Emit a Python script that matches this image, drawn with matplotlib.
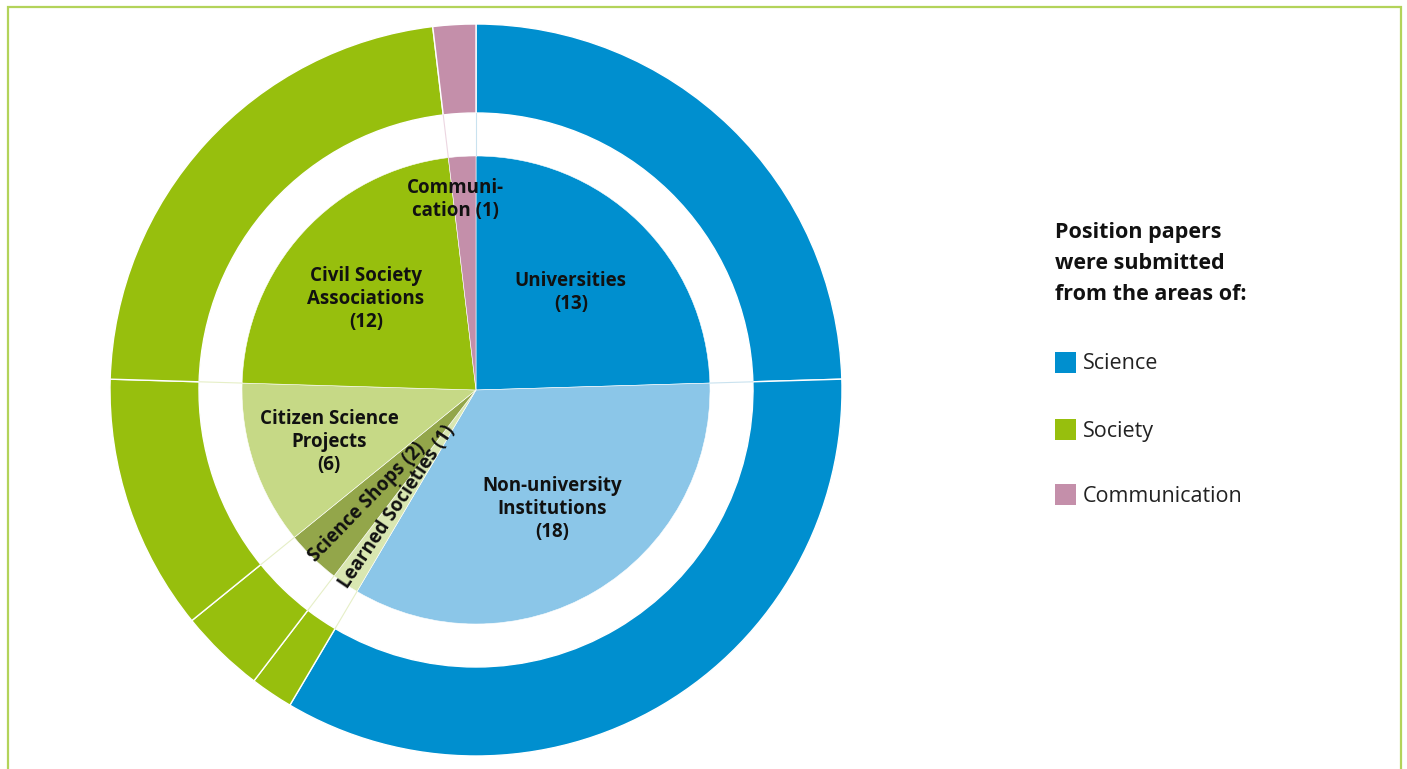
import numpy as np
import matplotlib
matplotlib.use("Agg")
import matplotlib.pyplot as plt
from matplotlib.patches import Rectangle

plt.rcParams['font.family'] = ['Open Sans', 'DejaVu Sans']

# inner pie: institutions, clockwise from the top
inner_labels = ['Universities\n(13)', 'Non-university\nInstitutions\n(18)',
                'Learned Societies (1)', 'Science Shops (2)',
                'Citizen Science\nProjects\n(6)', 'Civil Society\nAssociations\n(12)',
                'Communi-\ncation (1)']
inner_values = [13, 18, 1, 2, 6, 12, 1]
inner_colors = ['#008fcf', '#8bc6e8', '#d9e7b1', '#93a64a', '#c6d986', '#97bf0d', '#c48faa']
# outer ring: area each institution belongs to
outer_area = ['Science', 'Science', 'Society', 'Society', 'Society', 'Society', 'Communication']

areas = ['Science', 'Society', 'Communication']
area_colors = {'Science': '#008fcf', 'Society': '#97bf0d', 'Communication': '#c48faa'}
legend_title = ['Position papers', 'were submitted', 'from the areas of:']

W, H = 1407, 769
fig = plt.figure(figsize=(W / 100, H / 100), dpi=100)
cx, cy, R = 476, 390, 366
ax = fig.add_axes([(cx - R) / W, (H - cy - R) / H, 2 * R / W, 2 * R / H])

r_out = 1.0
r_gap = 277 / R
r_in = 234 / R

ax.pie(inner_values, radius=r_out, startangle=90, counterclock=False,
       colors=[area_colors[a] for a in outer_area],
       wedgeprops=dict(width=r_out - r_gap, edgecolor='white', linewidth=1.0))
ax.pie(inner_values, radius=r_in, startangle=90, counterclock=False,
       colors=inner_colors, wedgeprops=dict(edgecolor='white', linewidth=0.4))

# faint separators across the white gap
total = sum(inner_values)
bounds = 90 - np.cumsum([0] + inner_values) / total * 360
gap_cols = ['#c9e2ef', '#c9e2ef', '#e6efc7', '#e6efc7', '#e6efc7', '#e6efc7', '#ecd6e1']
for b, c in zip(bounds[:-1], gap_cols):
    t = np.radians(b)
    ax.plot([r_in * np.cos(t), r_gap * np.cos(t)], [r_in * np.sin(t), r_gap * np.sin(t)],
            color=c, lw=0.8)

# labels
label_r = [0.372, 0.385, 0.385, 0.426, 0.426, 0.39, 0.523]
label_da = [0, 2, 0, 0, 0.8, 2.9, 2.8]
mids = (bounds[:-1] + bounds[1:]) / 2
for lab, m, r, da in zip(inner_labels, mids, label_r, label_da):
    t = np.radians(m + da)
    rot = 0
    if lab.startswith('Learned') or lab.startswith('Science Shops'):
        rot = m + 180
    ax.text(r * np.cos(t), r * np.sin(t), lab, ha='center', va='center',
            fontsize=13.5, fontweight='bold', rotation=rot, rotation_mode='anchor',
            linespacing=1.2, color='#111111')

ax.set_xlim(-1, 1)
ax.set_ylim(-1, 1)
ax.set_aspect('equal')
ax.axis('off')

# legend
for i, line in enumerate(legend_title):
    fig.text(1055 / W, 1 - (232.5 + 31 * i) / H, line, ha='left', va='center', fontsize=15.5,
             fontweight='bold', color='#111111')
for i, a in enumerate(areas):
    yc = [362, 429, 494][i]
    fig.add_artist(Rectangle((1055 / W, 1 - (yc + 10.5) / H), 21 / W, 21 / H,
                             transform=fig.transFigure, color=area_colors[a], lw=0))
    fig.text(1083 / W, 1 - (yc + 2) / H, a, ha='left', va='center', fontsize=15.5,
             color='#222222')

# frame
fig.add_artist(Rectangle((8 / W, -0.1), (1401 - 8) / W, 1.1 - 7 / H, transform=fig.transFigure,
                         fill=False, edgecolor='#b3d35a', lw=1.6))

fig.savefig('out.png', dpi=100)
